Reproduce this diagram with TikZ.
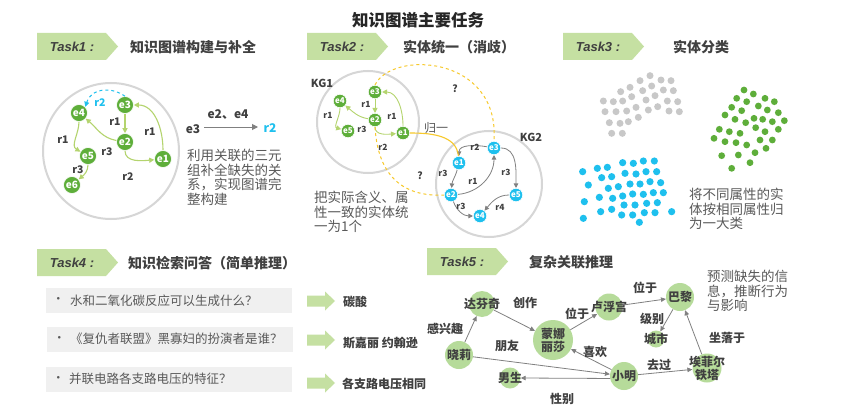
\documentclass[tikz,border=0pt]{standalone}
\usepackage{fontspec}
\setmainfont{Noto Sans CJK SC}
\newfontfamily\latinf{Liberation Sans}
\usetikzlibrary{arrows.meta}
\definecolor{hdr}{HTML}{C5E0A2}
\definecolor{gnode}{HTML}{5EAE3A}
\definecolor{gedge}{HTML}{B4D46E}
\definecolor{cyanc}{HTML}{1EC0EE}
\definecolor{txt}{HTML}{404040}
\definecolor{gtxt}{HTML}{595959}
\definecolor{ledge}{HTML}{808080}
\definecolor{lnode}{HTML}{B6DB9A}
\definecolor{gold}{HTML}{F7C92B}
\definecolor{boxg}{HTML}{F0F0F0}
\definecolor{dotg}{HTML}{C8C8C8}
\definecolor{circg}{HTML}{D6D6D6}
\newcommand\taskhdr[6]{%
  \fill[hdr] ({#2},{-#3}) -- ++(69,0) -- ++(12,-13.5) -- ++(-12,-13.5) -- ++(-69,0) -- cycle;
  \node[hdrt] (#1l) at ({#2+35},{-#3-13.5}) {#4};
  \node[ttl] (#1t) at ({#5},{-#3-14}) {#6};
}
\newcommand\garrow[1]{%
  \fill[hdr] (307,{-#1+5.5}) -- (325,{-#1+5.5}) -- (325,{-#1+9.5}) -- (335,{-#1}) -- (325,{-#1-9.5}) -- (325,{-#1-5.5}) -- (307,{-#1-5.5}) -- cycle;
}
\begin{document}
\begin{tikzpicture}[x=1pt,y=1pt,
  hdrt/.style={font=\latinf\bfseries\itshape\fontsize{13}{13}\selectfont,text=txt,inner sep=0pt},
  ttl/.style={font=\bfseries\fontsize{14}{14}\selectfont,text=txt,anchor=west,inner sep=0pt},
  bigc/.style={circle,draw=circg,line width=2pt,inner sep=0pt},
  gn/.style={circle,fill=gnode,draw=white,line width=0.6pt,minimum size=17pt,inner sep=0pt,text=white,font=\bfseries\fontsize{10}{10}\selectfont},
  sn/.style={gn,minimum size=13.5pt,font=\bfseries\fontsize{8}{8}\selectfont},
  cn/.style={sn,fill=cyanc},
  ge/.style={draw=gedge,line width=1.1pt,-{Triangle[length=5pt,width=5pt]}},
  ke/.style={draw=ledge,line width=0.8pt,-{Triangle[length=4.5pt,width=4.5pt]}},
  lb/.style={font=\bfseries\fontsize{10.5}{10.5}\selectfont,text=txt,inner sep=0pt},
  slb/.style={font=\bfseries\fontsize{8.5}{8.5}\selectfont,text=txt,inner sep=0pt},
  para/.style={align=left,anchor=north west,text=gtxt,font=\fontsize{13.5}{14.5}\selectfont,inner sep=0pt},
  qbox/.style={fill=boxg,minimum width=246pt,minimum height=25pt,anchor=north west,inner sep=0pt},
  qtxt/.style={anchor=west,text=gtxt,font=\fontsize{12.5}{12.5}\selectfont,inner sep=0pt},
  ans/.style={anchor=west,text=txt,font=\bfseries\fontsize{12}{12}\selectfont,inner sep=0pt},
  ln/.style={circle,fill=lnode,inner sep=0pt},
  lt/.style={text=txt,font=\bfseries\fontsize{12}{13}\selectfont,align=center,inner sep=0pt},
  le/.style={draw=ledge,line width=0.8pt,-{Triangle[length=5pt,width=4.5pt]}},
  ]
\useasboundingbox (0,0) rectangle (859,-420);
\fill[white] (0,0) rectangle (859,-420);
% title
\node[font=\bfseries\fontsize{16.5}{16.5}\selectfont,text=black!85,inner sep=0pt] (title) at (418,-20) {知识图谱主要任务};
% headers
\taskhdr{h1}{37}{33}{Task1 :}{130}{知识图谱构建与补全}
\taskhdr{h2}{307}{33}{Task2 :}{403}{实体统一（消歧）}
\taskhdr{h3}{563}{33}{Task3 :}{673}{实体分类}
\taskhdr{h4}{37}{249}{Task4 :}{128}{知识检索问答（简单推理）}
\taskhdr{h5}{427}{248}{Task5 :}{529}{复杂关联推理}

% ---------- Task1 ----------
\node[bigc,minimum size=136pt] (c1) at (111,-151) {};
\node[gn] (t1e3) at (125,-105) {e3};
\node[gn] (t1e4) at (79,-113) {e4};
\node[gn] (t1e2) at (125,-142) {e2};
\node[gn] (t1e1) at (163,-159) {e1};
\node[gn] (t1e5) at (88,-156) {e5};
\node[gn] (t1e6) at (72,-185) {e6};
\draw[ge] (t1e3) -- (t1e2);
\draw[ge] (t1e1) to[out=90,in=0] (t1e3);
\draw[ge] (t1e2) to[out=170,in=-40] (t1e4);
\draw[ge] (t1e2) to[out=-90,in=185] (t1e1);
\draw[ge] (t1e4) to[out=-90,in=150] (t1e5);
\draw[ge] (t1e5) to[out=-90,in=40] (t1e6);
\draw[dashed,draw=cyanc,line width=1pt,-{Triangle[length=5pt,width=5pt]}] (t1e3.north) .. controls (112,-87) and (92,-87) .. (t1e4.north east);
\node[lb] (l1a) at (115,-122) {r1};
\node[lb] (l1b) at (150,-132) {r1};
\node[lb] (l1c) at (107,-152) {r3};
\node[lb] (l1d) at (128,-177) {r2};
\node[lb] (l1e) at (63,-140) {r1};
\node[lb] (l1f) at (78,-170) {r3};
\node[lb,text=cyanc] (l1g) at (100,-103) {r2};
\node[lb,font=\bfseries\fontsize{12}{12}\selectfont] (q3) at (193,-129) {e3};
\node[lb,font=\bfseries\fontsize{12}{12}\selectfont] (q24) at (228,-115) {e2、e4};
\node[lb,text=cyanc,font=\bfseries\fontsize{12}{12}\selectfont] (qr2) at (270,-128) {r2};
\draw[draw=ledge,line width=1pt,-{Triangle[length=6pt,width=6pt]}] (q3.east) ++(4,2) coordinate (qa) -- (258,-127) coordinate (qb);
\node[para] (p1) at (187,-149) {利用关联的三元\\组补全缺失的关\\系，实现图谱完\\整构建};

% ---------- Task2 ----------
\node[bigc,minimum size=102pt] (kg1) at (368,-122) {};
\node[bigc,minimum size=106pt] (kg2) at (489,-184) {};
\node[lb,font=\bfseries\fontsize{11}{11}\selectfont] (kg1l) at (322,-83) {KG1};
\node[lb,font=\bfseries\fontsize{11}{11}\selectfont] (kg2l) at (531,-137) {KG2};
\node[sn] (k1e3) at (375,-92) {e3};
\node[sn] (k1e4) at (340,-101) {e4};
\node[sn] (k1e2) at (375,-120) {e2};
\node[sn] (k1e1) at (403,-133) {e1};
\node[sn] (k1e5) at (348,-131) {e5};
\draw[ge,line width=0.9pt] (k1e3) -- (k1e2);
\draw[ge,line width=0.9pt] (k1e1) to[out=90,in=0] (k1e3);
\draw[ge,line width=0.9pt] (k1e2) to[out=170,in=-40] (k1e4);
\draw[ge,line width=0.9pt] (k1e2) to[out=-90,in=185] (k1e1);
\draw[ge,line width=0.9pt] (k1e4) to[out=-90,in=165] (k1e5);
\node[slb] (l2a) at (366,-104) {r1};
\node[slb] (l2b) at (392,-116) {r1};
\node[slb] (l2c) at (328,-115) {r1};
\node[slb] (l2d) at (362,-129) {r3};
\node[slb] (l2e) at (383,-147) {r2};
\node[cn] (k2e3) at (494,-148) {e3};
\node[cn] (k2e1) at (459,-163) {e1};
\node[cn] (k2e2) at (451,-195) {e2};
\node[cn] (k2e5) at (516,-195) {e5};
\node[cn] (k2e4) at (480,-216) {e4};
\draw[ke] (k2e3) to[out=170,in=90] (k2e1);
\draw[ke] (k2e1) to[out=-105,in=85] (k2e2);
\draw[ke] (k2e2) to[out=5,in=-90] (k2e3);
\draw[ke] (k2e3) to[out=0,in=90] (k2e5);
\draw[ke] (k2e5) to[out=180,in=50] (k2e4);
\draw[ke] (k2e2) to[out=-70,in=180] (k2e4);
\node[slb] (l3a) at (475,-147) {r2};
\node[slb] (l3b) at (443,-173) {r3};
\node[slb] (l3c) at (473,-181) {r1};
\node[slb] (l3d) at (506,-172) {r3};
\node[slb] (l3e) at (500,-207) {r4};
\node[slb] (l3f) at (461,-206) {r3};
\draw[draw=gold,line width=1.1pt] (k1e1) to[out=0,in=95] (k2e1);
\draw[draw=gold,line width=1pt,dashed] (k1e3.north) .. controls (392,-50) and (500,-55) .. (k2e3.north);
\draw[draw=gold,line width=1pt,dashed] (k1e2.south) .. controls (378,-178) and (405,-197) .. (k2e2.west);
\node[text=gtxt,font=\fontsize{12}{12}\selectfont,inner sep=0pt] (gy) at (436,-128) {归一};
\node[slb,font=\bfseries\fontsize{10}{10}\selectfont] (qm1) at (455,-89) {?};
\node[slb,font=\bfseries\fontsize{10}{10}\selectfont] (qm2) at (420,-176) {?};
\node[para] (p2) at (314,-191) {把实际含义、属\\性一致的实体统\\一为1个};

% ---------- Task3 ----------
\foreach \x/\y in {270/137,240/152,303/150,333/152,210/172,182/185,248/182,275/168,310/180,340/182,130/213,160/215,188/213,215/200,258/210,285/197,322/213,353/215,135/245,168/245,200/243,228/232,265/240,293/230,327/243,358/245,148/278,180/280,205/275,235/262,155/310,187/310}
  \fill[dotg] ({560+\x/3},{-30-\y/3}) circle (3.5);
\foreach \x/\y in {552/180,580/192,530/205,560/215,615/205,643/215,515/232,545/242,595/228,622/240,655/248,495/255,525/268,557/278,582/265,608/268,637/275,673/272,478/298,508/305,540/310,587/293,615/305,655/298,462/325,495/335,528/338,560/345,600/330,637/330,485/377,535/375,585/368,618/355,515/415,570/398}
  \fill[gnode] ({560+\x/3},{-30-\y/3}) circle (3.4);
\foreach \x/\y in {188/398,220/400,250/393,283/393,112/415,142/412,68/425,125/443,155/440,195/430,228/432,258/425,290/425,85/465,145/475,175/470,210/462,240/462,270/455,302/458,118/502,158/505,188/498,218/492,250/493,280/488,310/488,73/515,192/525,225/525,260/520,292/518,122/545,155/538,185/555,218/555,253/548,285/548,335/545,70/565,238/577}
  \fill[cyanc] ({560+\x/3},{-30-\y/3}) circle (3.6);
\node[para] (p3) at (689,-188) {将不同属性的实\\体按相同属性归\\为一大类};

% ---------- Task4 ----------
\node[qbox] (b1) at (46,-288) {};
\node[qbox] (b2) at (47,-327) {};
\node[qbox] (b3) at (46,-367) {};
\node[qtxt] (d1) at (52,-300.5) {\textbullet};
\node[qtxt] (d2) at (53,-339) {\textbullet};
\node[qtxt] (d3) at (52,-379) {\textbullet};
\node[qtxt] (q1t) at (70,-300.5) {水和二氧化碳反应可以生成什么？};
\node[qtxt] (q2t) at (70,-339) {《复仇者联盟》黑寡妇的扮演者是谁？};
\node[qtxt] (q3t) at (69,-379) {并联电路各支路电压的特征？};
\garrow{301}
\garrow{340}
\garrow{383}
\node[ans] (a1) at (343,-302) {碳酸};
\node[ans] (a2) at (343,-343) {斯嘉丽 约翰逊};
\node[ans] (a3) at (342,-384) {各支路电压相同};

% ---------- Task5 ----------
\node[ln,minimum size=26pt,label={[lt]center:达芬奇}] (dav) at (482,-304) {};
\node[ln,minimum size=40pt,label={[lt]center:蒙娜\\丽莎}] (mona) at (553,-340) {};
\node[ln,minimum size=27pt,label={[lt]center:卢浮宫}] (louv) at (609,-307) {};
\node[ln,minimum size=28pt,label={[lt]center:巴黎}] (paris) at (680,-297) {};
\node[ln,minimum size=17pt,label={[lt]center:城市}] (city) at (656,-339) {};
\node[ln,minimum size=28pt,label={[lt]center:晓莉}] (xl) at (459,-355) {};
\node[ln,minimum size=21pt,label={[lt]center:男生}] (boy) at (510,-378) {};
\node[ln,minimum size=28pt,label={[lt]center:小明}] (xm) at (624,-376) {};
\node[ln,minimum size=29pt,label={[lt]center:埃菲尔\\铁塔}] (eif) at (707,-368) {};
\draw[le] (xl) -- (dav);
\draw[le] (dav) -- (mona);
\draw[le] (mona) -- (louv);
\draw[le] (louv) -- (paris);
\draw[le] (paris) -- (city);
\draw[le] (xl) -- (xm);
\draw[le] (xm) -- (mona);
\draw[le] (xm.190) -- (boy.east);
\draw[le] (xm) -- (eif);
\draw[le] (eif) -- (paris);
\node[lt] (m1) at (445,-329) {感兴趣};
\node[lt] (m2) at (525,-303) {创作};
\node[lt] (m3) at (577,-314) {位于};
\node[lt] (m4) at (645,-288) {位于};
\node[lt] (m5) at (652,-319) {级别};
\node[lt] (m6) at (507,-346) {朋友};
\node[lt] (m7) at (595,-352) {喜欢};
\node[lt] (m8) at (562,-399) {性别};
\node[lt] (m9) at (659,-365) {去过};
\node[lt] (m10) at (727,-338) {坐落于};
\node[para] (p5) at (707,-270) {预测缺失的信\\息，推断行为\\与影响};
\end{tikzpicture}
\end{document}
